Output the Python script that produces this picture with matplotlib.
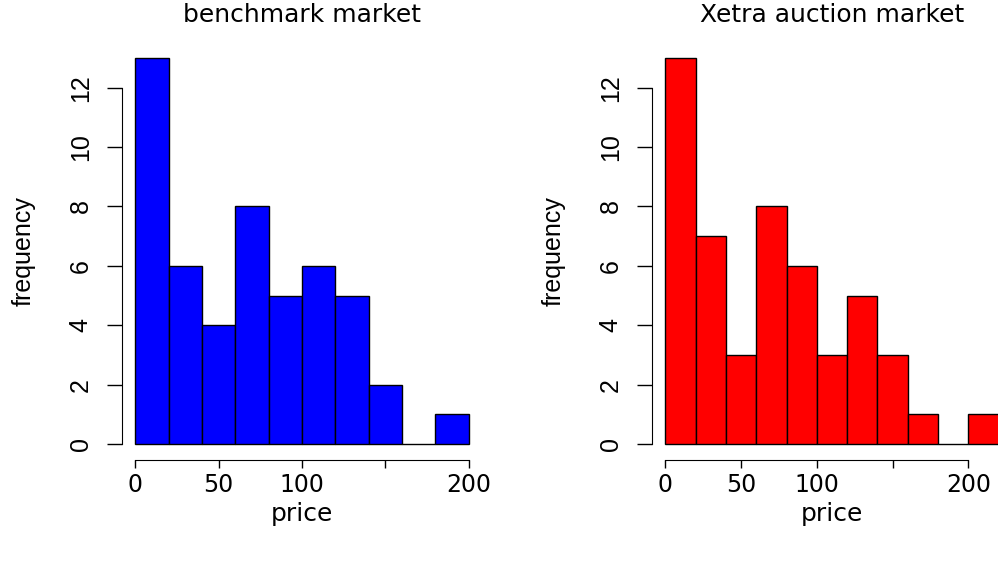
import numpy as np
import matplotlib
matplotlib.use('Agg')
import matplotlib.pyplot as plt

# histogram data (bin width 20)
bins_bench = [0, 20, 40, 60, 80, 100, 120, 140, 160, 180]
counts_bench = [13, 6, 4, 8, 5, 6, 5, 2, 0, 1]
bins_xetra = [0, 20, 40, 60, 80, 100, 120, 140, 160, 180, 200]
counts_xetra = [13, 7, 3, 8, 6, 3, 5, 3, 1, 0, 1]
titles = ["benchmark market", "Xetra auction market"]
xticks = [0, 50, 100, 150, 200]
xticklabels = ["0", "50", "100", "", "200"]
yticks = [0, 2, 4, 6, 8, 10, 12]

W, H = 998, 574
fig = plt.figure(figsize=(W / 100, H / 100), dpi=100)

narrow = ['Liberation Sans', 'DejaVu Sans']
wide = ['DejaVu Sans']


def make_panel(left_px, bins, counts, color, title):
    top, bottom = 42.5, 459.5
    ax = fig.add_axes([left_px / W, 1 - bottom / H, 360 / W, (bottom - top) / H])
    ax.bar(bins, counts, width=20, align='edge', color=color,
           edgecolor='black', linewidth=1)
    xmax = bins[-1] + 20
    pad = 0.04 * xmax
    ax.set_xlim(-pad, xmax + pad)
    ax.set_ylim(-0.04 * 13, 13 * 1.04)
    for s in ['top', 'right']:
        ax.spines[s].set_visible(False)
    ax.spines['left'].set_bounds(0, 12)
    ax.spines['bottom'].set_bounds(0, 200)
    ax.set_xticks(xticks)
    ax.set_xticklabels(xticklabels, family=wide, fontsize=17)
    ax.set_yticks(yticks)
    ax.set_yticklabels([str(v) for v in yticks], family=narrow, fontsize=18,
                       rotation=90, va='center')
    ax.tick_params(axis='x', length=6, width=1, pad=4)
    ax.tick_params(axis='y', length=11, width=1, pad=10)
    # title centred ~14 px below the top of the figure
    ax.text(0.5, (bottom - 15) / (bottom - top), title, transform=ax.transAxes,
            family=wide, fontsize=18, ha='center', va='center')
    ax.set_xlabel("price", family=wide, fontsize=18, labelpad=3)
    ax.set_ylabel("frequency", family=narrow, fontsize=18, labelpad=24)
    return ax


make_panel(122, bins_bench, counts_bench, '#0000ff', titles[0])
make_panel(652, bins_xetra, counts_xetra, '#ff0000', titles[1])

fig.savefig("out.png", dpi=100)
